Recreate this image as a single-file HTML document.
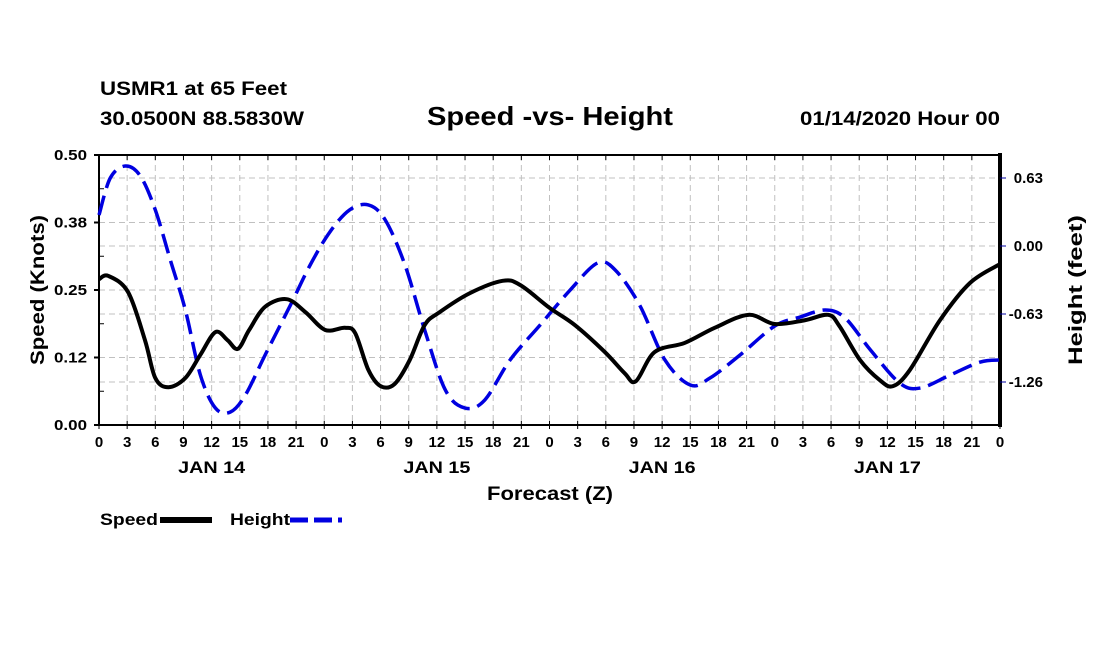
<!DOCTYPE html>
<html><head><meta charset="utf-8"><style>
body{margin:0;background:#fff;width:1100px;height:650px;overflow:hidden}
svg text{font-family:"Liberation Sans",Arial,sans-serif;font-weight:bold;fill:#000}
</style></head><body>
<svg id="chart" width="1100" height="650" xmlns="http://www.w3.org/2000/svg">
<text x="100" y="95" font-size="19" textLength="187" lengthAdjust="spacingAndGlyphs">USMR1 at 65 Feet</text>
<text x="100" y="125" font-size="19" textLength="204" lengthAdjust="spacingAndGlyphs">30.0500N 88.5830W</text>
<text x="427" y="125" font-size="26" textLength="246" lengthAdjust="spacingAndGlyphs">Speed -vs- Height</text>
<text x="800" y="125" font-size="19" textLength="200" lengthAdjust="spacingAndGlyphs">01/14/2020 Hour 00</text>
<g id="grid"></g>
<g id="axes"></g>
<g id="series"></g>
<text transform="translate(44,290) rotate(-90)" font-size="19" text-anchor="middle" textLength="150" lengthAdjust="spacingAndGlyphs">Speed (Knots)</text>
<text transform="translate(1082,290) rotate(-90)" font-size="19" text-anchor="middle" textLength="150" lengthAdjust="spacingAndGlyphs">Height (feet)</text>
<text x="487" y="500" font-size="19" textLength="126" lengthAdjust="spacingAndGlyphs">Forecast (Z)</text>
<g>
<text x="100" y="525" font-size="17" textLength="58" lengthAdjust="spacingAndGlyphs">Speed</text>
<line x1="160" y1="520" x2="212" y2="520" stroke="#000" stroke-width="6"/>
<text x="230" y="525" font-size="17" textLength="60" lengthAdjust="spacingAndGlyphs">Height</text>
<line x1="290" y1="520" x2="342" y2="520" stroke="#0000e0" stroke-width="5" stroke-dasharray="18,6"/>
</g>
</svg>
<script>
const speedHours=[0,1,3.1,4.9,6,7.4,9.2,10.8,12.4,13.7,14.8,16,17.7,20,22,24.1,26.2,27.3,28.7,30,31.5,33.1,34.7,36.3,39.5,43,44.9,48,50.7,53.9,56,57.2,59.2,62.4,65.6,69.2,72,75.2,77.7,78.9,81.1,83.2,84.6,86.4,89.6,92.8,96];
const speedValues=[0.270,0.276,0.246,0.157,0.087,0.070,0.087,0.130,0.172,0.157,0.141,0.176,0.219,0.233,0.209,0.176,0.180,0.170,0.102,0.072,0.076,0.120,0.185,0.209,0.244,0.267,0.259,0.217,0.185,0.135,0.096,0.081,0.135,0.152,0.180,0.204,0.187,0.194,0.204,0.183,0.120,0.083,0.072,0.102,0.194,0.263,0.298];
const heightHours=[0,1.2,2.8,4.4,6,7.6,9.2,10.8,12.4,14,15.6,17.7,20.4,22.5,24.6,26.7,28.7,30.5,32.6,34.7,36.9,39,41.1,43.8,47,50.2,53.1,55,57.6,60.3,63,65.1,68.3,72,74.7,77.4,79.5,82.2,85.3,87.5,90.7,93.9,96];
const heightValues=[0.287,0.630,0.741,0.649,0.334,-0.130,-0.593,-1.195,-1.501,-1.538,-1.380,-1.010,-0.547,-0.176,0.130,0.334,0.380,0.241,-0.176,-0.778,-1.334,-1.501,-1.427,-1.056,-0.732,-0.408,-0.158,-0.222,-0.547,-1.056,-1.288,-1.223,-1.010,-0.741,-0.658,-0.593,-0.667,-0.964,-1.269,-1.316,-1.195,-1.075,-1.056];
const leftTicks=[0,0.125,0.25,0.375,0.5];
const leftTickLabels=["0.00","0.12","0.25","0.38","0.50"];
const rightTicks=[0.63,0,-0.63,-1.26];
const rightTickLabels=["0.63","0.00","-0.63","-1.26"];
const hourTickLabels=["0","3","6","9","12","15","18","21"];
const dayLabels=["JAN 14","JAN 15","JAN 16","JAN 17"];

const X0=99,X1=1000,Y0=155,Y1=425;
const xS=h=>X0+h/96*(X1-X0);
const yL=v=>Y1-v/0.5*(Y1-Y0);
const yR=f=>246-f/0.63*68;
const NS="http://www.w3.org/2000/svg";
function mk(tag,attrs,parent){const e=document.createElementNS(NS,tag);for(const k in attrs)e.setAttribute(k,attrs[k]);parent.appendChild(e);return e;}
const grid=document.getElementById('grid'),axes=document.getElementById('axes'),series=document.getElementById('series');
const gs={stroke:"#c0c0c0","stroke-width":1,"stroke-dasharray":"6,4"};
for(let h=3;h<96;h+=3){const l=mk('line',Object.assign({x1:xS(h),x2:xS(h),y1:Y0,y2:Y1},gs),grid);

}
leftTicks.forEach(v=>{const l=mk('line',Object.assign({x1:X0,x2:X1,y1:yL(v),y2:yL(v)},gs),grid);

});
rightTicks.forEach(v=>{const l=mk('line',Object.assign({x1:X0,x2:X1,y1:yR(v),y2:yR(v)},gs),grid);

});
const fr=mk('rect',{x:X0,y:Y0,width:X1-X0,height:Y1-Y0,fill:"none",stroke:"#000","stroke-width":2},axes);


const ra=mk('line',{x1:X1,x2:X1,y1:Y0-2,y2:Y1+2,stroke:"#000","stroke-width":4},axes);


leftTicks.forEach((v,i)=>{mk('line',{x1:X0-5,x2:X0,y1:yL(v),y2:yL(v),stroke:"#000","stroke-width":2},axes);
const t=mk('text',{x:X0-12,y:yL(v)+5,"font-size":15,"text-anchor":"end",textLength:33,lengthAdjust:"spacingAndGlyphs"},axes);t.textContent=leftTickLabels[i];

});
for(let v=0.0625;v<0.5;v+=0.125){mk('line',{x1:X0,x2:X0+5,y1:yL(v),y2:yL(v),stroke:"#000","stroke-width":1},axes);}
rightTicks.forEach((v,i)=>{mk('line',{x1:X1,x2:X1+6,y1:yR(v),y2:yR(v),stroke:"#0000a0","stroke-width":1},axes);
const t=mk('text',{x:1043,y:yR(v)+5,"font-size":15,"text-anchor":"end"},axes);t.textContent=rightTickLabels[i];

});
for(let h=0;h<=96;h+=3){mk('line',{x1:xS(h),x2:xS(h),y1:Y1-4,y2:Y1+4,stroke:"#000","stroke-width":1},axes);
mk('line',{x1:xS(h),x2:xS(h),y1:Y0,y2:Y0+5,stroke:"#000","stroke-width":1},axes);
const t=mk('text',{x:xS(h),y:Y1+22,"font-size":15,"text-anchor":"middle"},axes);t.textContent=hourTickLabels[(h/3)%8];

}
dayLabels.forEach((d,i)=>{const t=mk('text',{x:xS(12+24*i),y:Y1+48,"font-size":17,"text-anchor":"middle",textLength:67,lengthAdjust:"spacingAndGlyphs"},axes);t.textContent=d;

});
function smooth(pts){let d=`M${pts[0][0]},${pts[0][1]}`;for(let i=0;i<pts.length-1;i++){const p0=pts[Math.max(0,i-1)],p1=pts[i],p2=pts[i+1],p3=pts[Math.min(pts.length-1,i+2)];
d+=` C${p1[0]+(p2[0]-p0[0])/6},${p1[1]+(p2[1]-p0[1])/6} ${p2[0]-(p3[0]-p1[0])/6},${p2[1]-(p3[1]-p1[1])/6} ${p2[0]},${p2[1]}`;}return d;}
const hp=mk('path',{d:smooth(heightHours.map((h,i)=>[xS(h),yR(heightValues[i])])),fill:"none",stroke:"#0000e0","stroke-width":3.5,"stroke-dasharray":"20,8"},series);


const sp=mk('path',{d:smooth(speedHours.map((h,i)=>[xS(h),yL(speedValues[i])])),fill:"none",stroke:"#000","stroke-width":4},series);


</script>
</body></html>
